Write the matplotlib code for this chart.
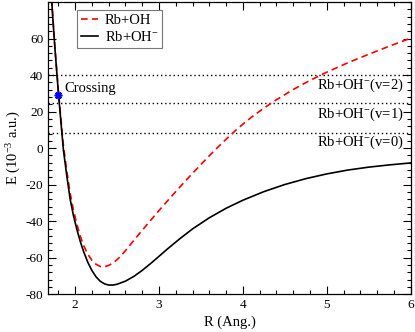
import matplotlib
matplotlib.use('Agg')
import matplotlib.pyplot as plt
from matplotlib.ticker import MultipleLocator

plt.rcParams['font.family'] = ['Liberation Serif', 'DejaVu Serif']
plt.rcParams['mathtext.fontset'] = 'custom'
plt.rcParams['mathtext.rm'] = 'Liberation Serif'
plt.rcParams['mathtext.it'] = 'Liberation Serif:italic'
plt.rcParams['axes.unicode_minus'] = False

# values (R in Ang., E in 1e-3 a.u.)
r_ion = [1.68, 1.70, 1.72, 1.74, 1.76, 1.78, 1.80, 1.83, 1.86, 1.90, 1.94, 1.98,
         2.02, 2.06, 2.10, 2.15, 2.20, 2.25, 2.30, 2.35, 2.40, 2.45, 2.50, 2.60,
         2.70, 2.80, 2.90, 3.00, 3.10, 3.25, 3.40, 3.60, 3.80, 4.00, 4.25, 4.50,
         4.75, 5.00, 5.25, 5.50, 5.75, 6.00]
e_ion = [112, 96, 81, 67, 54, 42, 30.5, 14.5, -1, -15, -27.8, -37,
         -44.4, -50.9, -56.5, -62.4, -67.0, -70.5, -72.9, -74.3, -74.95, -74.95, -74.5, -72.8,
         -70.2, -66.9, -63.15, -59.2, -55.2, -49.5, -44.2, -38.1, -32.9, -28.5, -23.8, -19.9,
         -16.7, -14.1, -12.0, -10.4, -9.15, -8.1]

r_cov = [1.68, 1.70, 1.72, 1.74, 1.76, 1.78, 1.80, 1.83, 1.86, 1.90, 1.94, 1.98,
         2.02, 2.06, 2.10, 2.15, 2.20, 2.25, 2.30, 2.35, 2.40, 2.45, 2.50, 2.55,
         2.60, 2.65, 2.70, 2.80, 2.90, 3.00, 3.10, 3.20, 3.30, 3.40, 3.50, 3.60,
         3.70, 3.80, 3.90, 4.00, 4.10, 4.25, 4.40, 4.60, 4.80, 5.00, 5.25, 5.50,
         5.75, 6.00]
e_cov = [112, 96, 81, 67.5, 54.5, 43, 31.5, 16, 1.5, -12.5, -24.5, -34,
         -41.5, -48, -53.2, -58, -61.4, -63.6, -64.8, -64.9, -64.2, -62.9, -61.05, -58.75,
         -56.1, -53.3, -50.5, -44.95, -39.5, -34.15, -28.9, -23.75, -18.7, -13.75, -8.9, -4.15,
         0.45, 4.9, 9.15, 13.15, 16.85, 21.9, 26.5, 32.1, 37.1, 41.6, 46.7, 51.4,
         55.9, 60.2]

levels = [40.3, 24.6, 8.4]
level_labels = ['Rb+OH$^{-}$(v=2)', 'Rb+OH$^{-}$(v=1)', 'Rb+OH$^{-}$(v=0)']
label_e = [34.2, 18.7, 3.3]
cross_r, cross_e = 1.80, 29.1

fig = plt.figure(figsize=(4.15, 3.32), dpi=100)
ax = fig.add_axes([0.1164, 0.1136, 0.8732, 0.8804])

for lv in levels:
    ax.axhline(lv, color='black', lw=1.0, ls=(0, (1, 2)))

ax.plot(r_cov, e_cov, color='red', lw=1.2, dashes=(4, 2.5), label='Rb+OH')
ax.plot(r_ion, e_ion, color='black', lw=1.2, label='Rb+OH$^{-}$')
ax.plot([cross_r], [cross_e], marker=(8, 2, 0), color='blue', ms=5.5, mew=1.2, ls='none')
ax.text(1.87, 32.8, 'Crossing', fontsize=10.5, va='center', ha='left')

for lab, ye in zip(level_labels, label_e):
    ax.text(5.92, ye, lab, fontsize=10.5, ha='right', va='center')

ax.set_xlim(1.68, 6)
ax.set_ylim(-80, 80)
ax.set_xticks([2, 3, 4, 5, 6])
ax.set_yticks(range(-80, 61, 20))
ax.xaxis.set_minor_locator(MultipleLocator(0.2))
ax.yaxis.set_minor_locator(MultipleLocator(4))
ax.tick_params(which='both', direction='in', top=True, right=True, labelsize=9.5)
ax.tick_params(which='major', length=5.5, width=0.8)
ax.tick_params(which='minor', length=2.8, width=0.8)
for s in ax.spines.values():
    s.set_linewidth(0.9)

ax.set_xlabel('R (Ang.)', fontsize=10.5, labelpad=3)
ax.set_ylabel('E (10$^{-3}$ a.u.)', fontsize=10.5, labelpad=2)

leg = ax.legend(loc='upper left', bbox_to_anchor=(0.079, 0.973), borderaxespad=0,
                fontsize=10.5, handlelength=1.2, handletextpad=0.45, borderpad=0.25,
                labelspacing=0.25, fancybox=False, framealpha=1)
leg.get_frame().set_edgecolor('#777777')
leg.get_frame().set_linewidth(0.8)

fig.savefig('out.png', dpi=100)
